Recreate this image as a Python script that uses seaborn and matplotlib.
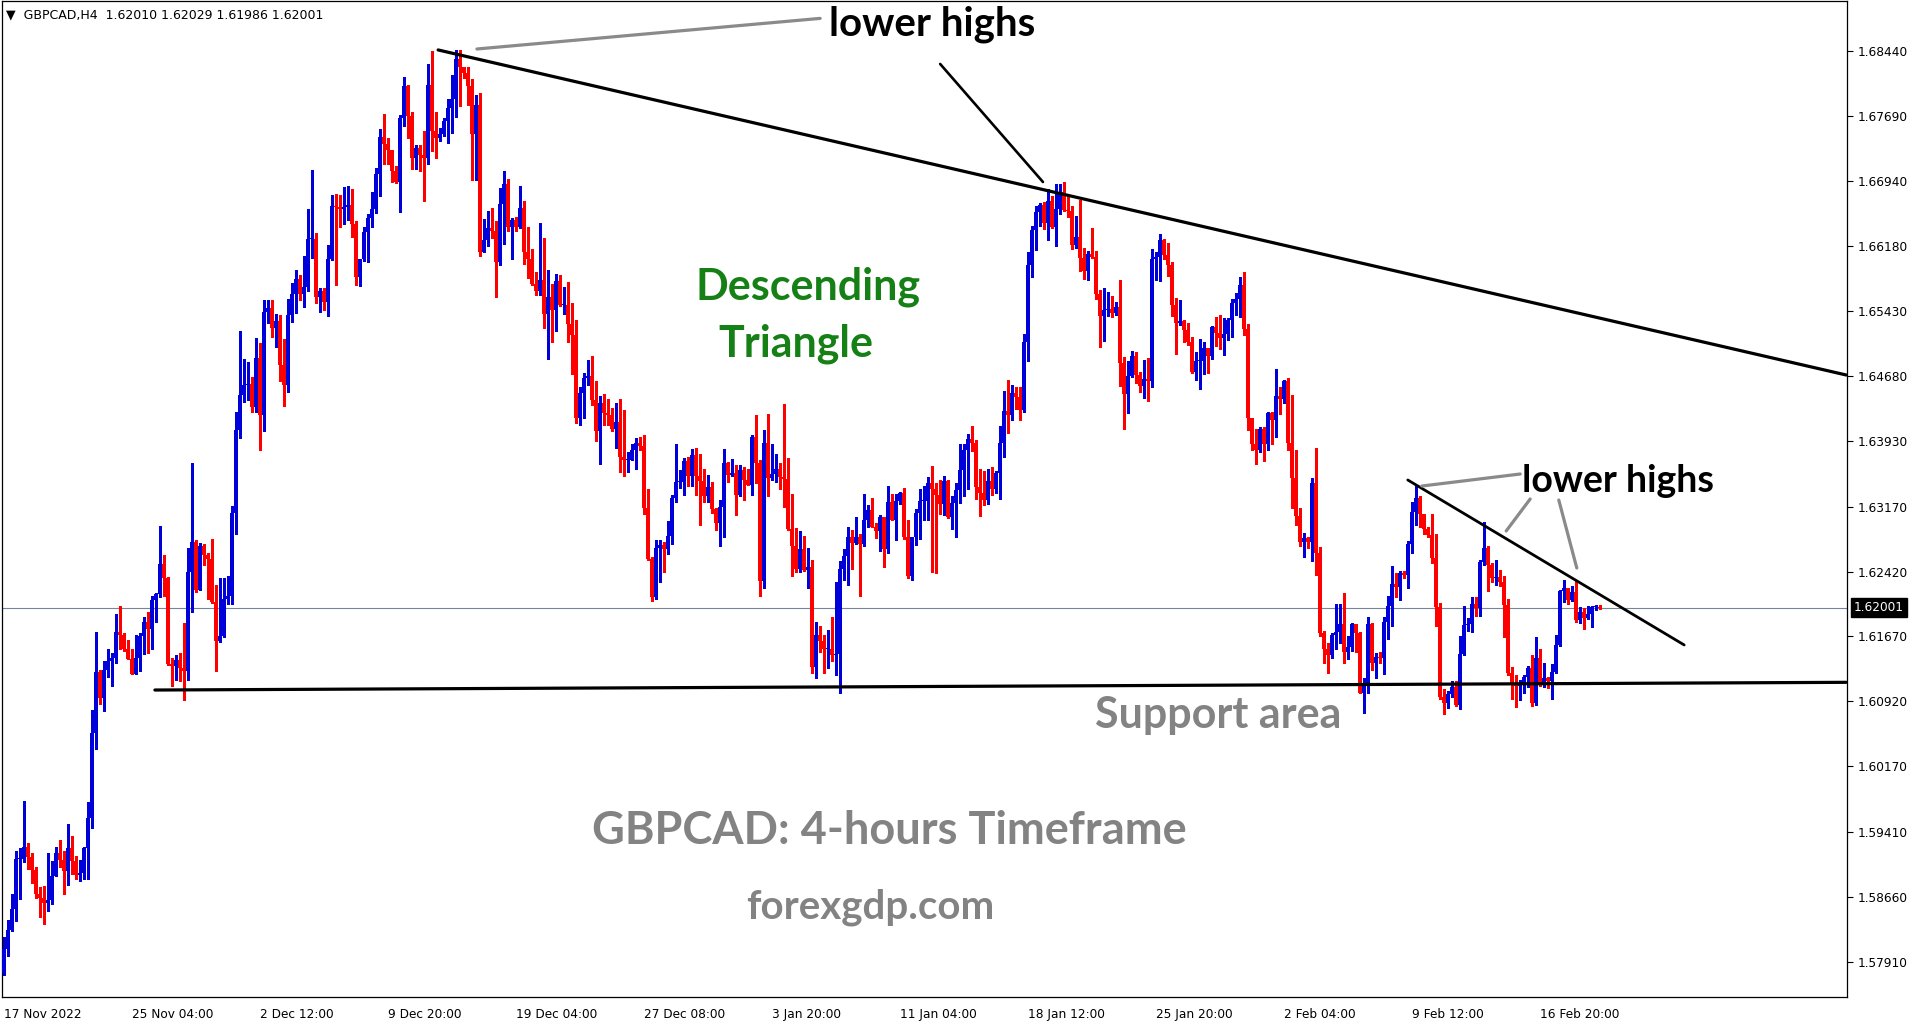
"""GBPCAD H4 descending triangle chart, redrawn with seaborn / matplotlib."""
import numpy as np
import pandas as pd
import seaborn as sns
import matplotlib
matplotlib.use("Agg")
from matplotlib import pyplot as plt
from matplotlib.transforms import blended_transform_factory

# ---------------------------------------------------------------- data
first_open = 1.5778

close = [
    1.5805, 1.5827, 1.5852, 1.5910, 1.5910, 1.5923, 1.5912, 1.5897, 1.5869, 1.5864,
    1.5859, 1.5862, 1.5890, 1.5917, 1.5909, 1.5896, 1.5922, 1.5907, 1.5891, 1.5893,
    1.5922, 1.5957, 1.6055, 1.6126, 1.6096, 1.6128, 1.6138, 1.6142, 1.6172, 1.6169,
    1.6153, 1.6141, 1.6123, 1.6142, 1.6168, 1.6184, 1.6175, 1.6209, 1.6216, 1.6251,
    1.6234, 1.6135, 1.6133, 1.6140, 1.6131, 1.6127, 1.6241, 1.6276, 1.6221, 1.6271,
    1.6261, 1.6256, 1.6207, 1.6162, 1.6168, 1.6210, 1.6214, 1.6310, 1.6406, 1.6446,
    1.6458, 1.6459, 1.6432, 1.6489, 1.6423, 1.6542, 1.6547, 1.6524, 1.6532, 1.6481,
    1.6458, 1.6539, 1.6563, 1.6580, 1.6563, 1.6571, 1.6627, 1.6627, 1.6559, 1.6567,
    1.6554, 1.6604, 1.6665, 1.6664, 1.6661, 1.6664, 1.6666, 1.6644, 1.6583, 1.6604,
    1.6635, 1.6651, 1.6661, 1.6702, 1.6744, 1.6737, 1.6729, 1.6705, 1.6692, 1.6767,
    1.6804, 1.6769, 1.6720, 1.6732, 1.6724, 1.6720, 1.6805, 1.6751, 1.6743, 1.6748,
    1.6763, 1.6778, 1.6789, 1.6835, 1.6825, 1.6819, 1.6803, 1.6748, 1.6781, 1.6612,
    1.6625, 1.6639, 1.6636, 1.6600, 1.6667, 1.6690, 1.6641, 1.6648, 1.6641, 1.6662,
    1.6611, 1.6603, 1.6574, 1.6567, 1.6579, 1.6540, 1.6559, 1.6544, 1.6578, 1.6550,
    1.6550, 1.6528, 1.6516, 1.6420, 1.6448, 1.6466, 1.6468, 1.6440, 1.6404, 1.6437,
    1.6425, 1.6423, 1.6407, 1.6415, 1.6375, 1.6371, 1.6371, 1.6383, 1.6391, 1.6387,
    1.6316, 1.6256, 1.6213, 1.6269, 1.6273, 1.6268, 1.6283, 1.6327, 1.6346, 1.6346,
    1.6370, 1.6352, 1.6377, 1.6352, 1.6347, 1.6329, 1.6340, 1.6314, 1.6298, 1.6317,
    1.6367, 1.6354, 1.6356, 1.6330, 1.6359, 1.6348, 1.6342, 1.6398, 1.6367, 1.6231,
    1.6391, 1.6350, 1.6355, 1.6361, 1.6351, 1.6349, 1.6291, 1.6272, 1.6245, 1.6268,
    1.6244, 1.6247, 1.6132, 1.6169, 1.6162, 1.6152, 1.6153, 1.6145, 1.6147, 1.6245,
    1.6260, 1.6282, 1.6275, 1.6282, 1.6274, 1.6302, 1.6313, 1.6294, 1.6289, 1.6305,
    1.6268, 1.6322, 1.6302, 1.6324, 1.6333, 1.6282, 1.6237, 1.6282, 1.6310, 1.6324,
    1.6324, 1.6344, 1.6338, 1.6330, 1.6320, 1.6347, 1.6305, 1.6321, 1.6336, 1.6359,
    1.6383, 1.6395, 1.6391, 1.6340, 1.6333, 1.6325, 1.6347, 1.6338, 1.6356, 1.6391,
    1.6428, 1.6423, 1.6448, 1.6444, 1.6429, 1.6507, 1.6597, 1.6637, 1.6658, 1.6666,
    1.6645, 1.6671, 1.6641, 1.6661, 1.6681, 1.6660, 1.6659, 1.6620, 1.6629, 1.6605,
    1.6590, 1.6609, 1.6606, 1.6563, 1.6538, 1.6545, 1.6546, 1.6541, 1.6548, 1.6483,
    1.6447, 1.6468, 1.6491, 1.6469, 1.6457, 1.6465, 1.6462, 1.6603, 1.6606, 1.6625,
    1.6608, 1.6597, 1.6550, 1.6530, 1.6532, 1.6521, 1.6508, 1.6473, 1.6485, 1.6486,
    1.6501, 1.6491, 1.6525, 1.6518, 1.6512, 1.6517, 1.6533, 1.6552, 1.6557, 1.6573,
    1.6522, 1.6419, 1.6389, 1.6382, 1.6407, 1.6390, 1.6425, 1.6417, 1.6445, 1.6442,
    1.6462, 1.6391, 1.6350, 1.6306, 1.6276, 1.6281, 1.6276, 1.6344, 1.6263, 1.6171,
    1.6153, 1.6145, 1.6169, 1.6172, 1.6181, 1.6149, 1.6155, 1.6181, 1.6171, 1.6101,
    1.6110, 1.6181, 1.6136, 1.6143, 1.6142, 1.6184, 1.6202, 1.6228, 1.6224, 1.6240,
    1.6238, 1.6274, 1.6311, 1.6327, 1.6308, 1.6291, 1.6284, 1.6258, 1.6201, 1.6097,
    1.6090, 1.6100, 1.6109, 1.6088, 1.6147, 1.6180, 1.6181, 1.6205, 1.6200, 1.6253,
    1.6269, 1.6250, 1.6235, 1.6236, 1.6230, 1.6203, 1.6125, 1.6111, 1.6110, 1.6113,
    1.6120, 1.6130, 1.6090, 1.6142, 1.6113, 1.6119, 1.6115, 1.6126, 1.6157, 1.6220,
    1.6223, 1.6209, 1.6218, 1.6186, 1.6195, 1.6188, 1.6193, 1.6201, 1.6201, 1.62001,
]

high = [
    1.5819, 1.5839, 1.5869, 1.5919, 1.5922, 1.5977, 1.5928, 1.5917, 1.5900, 1.5877,
    1.5878, 1.5917, 1.5907, 1.5923, 1.5932, 1.5919, 1.5950, 1.5936, 1.5913, 1.5909,
    1.5923, 1.5975, 1.6082, 1.6172, 1.6128, 1.6138, 1.6153, 1.6148, 1.6193, 1.6202,
    1.6171, 1.6163, 1.6153, 1.6169, 1.6171, 1.6189, 1.6195, 1.6214, 1.6217, 1.6295,
    1.6261, 1.6236, 1.6142, 1.6146, 1.6148, 1.6182, 1.6269, 1.6367, 1.6278, 1.6275,
    1.6274, 1.6264, 1.6280, 1.6226, 1.6234, 1.6234, 1.6237, 1.6318, 1.6426, 1.6520,
    1.6488, 1.6484, 1.6467, 1.6512, 1.6506, 1.6556, 1.6556, 1.6556, 1.6540, 1.6539,
    1.6511, 1.6557, 1.6576, 1.6591, 1.6585, 1.6607, 1.6661, 1.6706, 1.6634, 1.6570,
    1.6570, 1.6620, 1.6677, 1.6679, 1.6677, 1.6687, 1.6688, 1.6684, 1.6647, 1.6604,
    1.6640, 1.6655, 1.6681, 1.6709, 1.6754, 1.6771, 1.6743, 1.6726, 1.6711, 1.6770,
    1.6814, 1.6805, 1.6773, 1.6735, 1.6735, 1.6752, 1.6829, 1.6844, 1.6774, 1.6755,
    1.6767, 1.6788, 1.6816, 1.6845, 1.6845, 1.6825, 1.6825, 1.6812, 1.6793, 1.6795,
    1.6650, 1.6659, 1.6662, 1.6647, 1.6686, 1.6705, 1.6696, 1.6651, 1.6652, 1.6688,
    1.6670, 1.6640, 1.6615, 1.6588, 1.6645, 1.6628, 1.6591, 1.6574, 1.6586, 1.6585,
    1.6571, 1.6577, 1.6552, 1.6533, 1.6455, 1.6472, 1.6487, 1.6491, 1.6462, 1.6445,
    1.6447, 1.6442, 1.6431, 1.6437, 1.6442, 1.6429, 1.6380, 1.6390, 1.6397, 1.6398,
    1.6400, 1.6337, 1.6259, 1.6279, 1.6278, 1.6276, 1.6300, 1.6331, 1.6389, 1.6360,
    1.6373, 1.6374, 1.6384, 1.6385, 1.6378, 1.6361, 1.6354, 1.6345, 1.6316, 1.6325,
    1.6384, 1.6369, 1.6372, 1.6365, 1.6365, 1.6363, 1.6361, 1.6400, 1.6423, 1.6371,
    1.6406, 1.6424, 1.6390, 1.6378, 1.6367, 1.6436, 1.6373, 1.6332, 1.6292, 1.6289,
    1.6283, 1.6269, 1.6255, 1.6184, 1.6179, 1.6169, 1.6174, 1.6190, 1.6230, 1.6254,
    1.6268, 1.6294, 1.6290, 1.6305, 1.6285, 1.6332, 1.6319, 1.6327, 1.6298, 1.6307,
    1.6305, 1.6341, 1.6332, 1.6332, 1.6334, 1.6339, 1.6302, 1.6282, 1.6314, 1.6337,
    1.6341, 1.6351, 1.6364, 1.6344, 1.6348, 1.6353, 1.6348, 1.6329, 1.6344, 1.6390,
    1.6390, 1.6401, 1.6410, 1.6394, 1.6361, 1.6358, 1.6361, 1.6363, 1.6358, 1.6410,
    1.6451, 1.6463, 1.6458, 1.6455, 1.6455, 1.6517, 1.6612, 1.6642, 1.6665, 1.6668,
    1.6669, 1.6684, 1.6676, 1.6690, 1.6690, 1.6692, 1.6676, 1.6665, 1.6653, 1.6672,
    1.6616, 1.6613, 1.6639, 1.6613, 1.6568, 1.6570, 1.6565, 1.6561, 1.6554, 1.6579,
    1.6490, 1.6486, 1.6497, 1.6496, 1.6473, 1.6487, 1.6489, 1.6615, 1.6612, 1.6632,
    1.6627, 1.6622, 1.6600, 1.6558, 1.6556, 1.6533, 1.6530, 1.6513, 1.6496, 1.6511,
    1.6507, 1.6500, 1.6526, 1.6536, 1.6539, 1.6535, 1.6535, 1.6557, 1.6564, 1.6583,
    1.6588, 1.6528, 1.6419, 1.6407, 1.6409, 1.6409, 1.6427, 1.6427, 1.6476, 1.6455,
    1.6464, 1.6466, 1.6446, 1.6382, 1.6316, 1.6287, 1.6282, 1.6350, 1.6385, 1.6270,
    1.6173, 1.6159, 1.6171, 1.6204, 1.6204, 1.6217, 1.6167, 1.6182, 1.6181, 1.6172,
    1.6119, 1.6190, 1.6182, 1.6148, 1.6149, 1.6190, 1.6214, 1.6248, 1.6240, 1.6243,
    1.6243, 1.6277, 1.6322, 1.6341, 1.6329, 1.6306, 1.6294, 1.6309, 1.6286, 1.6206,
    1.6106, 1.6104, 1.6115, 1.6115, 1.6168, 1.6202, 1.6188, 1.6213, 1.6213, 1.6255,
    1.6299, 1.6271, 1.6252, 1.6255, 1.6244, 1.6237, 1.6210, 1.6132, 1.6122, 1.6117,
    1.6122, 1.6133, 1.6146, 1.6166, 1.6153, 1.6136, 1.6120, 1.6135, 1.6169, 1.6221,
    1.6232, 1.6223, 1.6225, 1.6232, 1.6201, 1.6200, 1.6202, 1.6202, 1.6203, 1.62029,
]

low = [
    1.5775, 1.5797, 1.5826, 1.5838, 1.5863, 1.5906, 1.5898, 1.5882, 1.5865, 1.5842,
    1.5834, 1.5849, 1.5858, 1.5891, 1.5900, 1.5869, 1.5880, 1.5892, 1.5887, 1.5884,
    1.5886, 1.5886, 1.5946, 1.6037, 1.6089, 1.6081, 1.6120, 1.6110, 1.6136, 1.6152,
    1.6150, 1.6141, 1.6123, 1.6123, 1.6127, 1.6147, 1.6148, 1.6153, 1.6184, 1.6212,
    1.6214, 1.6134, 1.6110, 1.6117, 1.6115, 1.6093, 1.6117, 1.6195, 1.6218, 1.6223,
    1.6250, 1.6210, 1.6206, 1.6127, 1.6160, 1.6166, 1.6204, 1.6205, 1.6285, 1.6396,
    1.6438, 1.6440, 1.6427, 1.6427, 1.6382, 1.6404, 1.6529, 1.6513, 1.6502, 1.6462,
    1.6433, 1.6450, 1.6531, 1.6541, 1.6556, 1.6548, 1.6566, 1.6605, 1.6553, 1.6542,
    1.6545, 1.6537, 1.6602, 1.6573, 1.6641, 1.6644, 1.6648, 1.6629, 1.6573, 1.6572,
    1.6601, 1.6600, 1.6640, 1.6657, 1.6676, 1.6713, 1.6713, 1.6692, 1.6691, 1.6658,
    1.6757, 1.6743, 1.6707, 1.6707, 1.6705, 1.6670, 1.6713, 1.6728, 1.6720, 1.6740,
    1.6746, 1.6738, 1.6749, 1.6768, 1.6780, 1.6813, 1.6781, 1.6695, 1.6695, 1.6607,
    1.6611, 1.6618, 1.6628, 1.6560, 1.6597, 1.6621, 1.6636, 1.6604, 1.6636, 1.6639,
    1.6598, 1.6582, 1.6573, 1.6562, 1.6562, 1.6524, 1.6488, 1.6507, 1.6520, 1.6549,
    1.6540, 1.6507, 1.6470, 1.6414, 1.6411, 1.6420, 1.6458, 1.6435, 1.6393, 1.6366,
    1.6412, 1.6412, 1.6405, 1.6385, 1.6357, 1.6352, 1.6357, 1.6372, 1.6361, 1.6382,
    1.6309, 1.6255, 1.6208, 1.6210, 1.6230, 1.6242, 1.6262, 1.6274, 1.6322, 1.6339,
    1.6331, 1.6341, 1.6341, 1.6330, 1.6296, 1.6323, 1.6322, 1.6310, 1.6290, 1.6271,
    1.6282, 1.6345, 1.6353, 1.6307, 1.6329, 1.6325, 1.6342, 1.6331, 1.6344, 1.6214,
    1.6223, 1.6329, 1.6348, 1.6345, 1.6338, 1.6317, 1.6290, 1.6237, 1.6241, 1.6242,
    1.6243, 1.6223, 1.6125, 1.6119, 1.6149, 1.6125, 1.6130, 1.6139, 1.6122, 1.6102,
    1.6232, 1.6226, 1.6245, 1.6274, 1.6214, 1.6272, 1.6294, 1.6293, 1.6281, 1.6266,
    1.6247, 1.6264, 1.6302, 1.6279, 1.6320, 1.6280, 1.6235, 1.6232, 1.6273, 1.6280,
    1.6302, 1.6302, 1.6242, 1.6240, 1.6309, 1.6307, 1.6304, 1.6291, 1.6282, 1.6321,
    1.6329, 1.6338, 1.6381, 1.6326, 1.6306, 1.6319, 1.6320, 1.6331, 1.6333, 1.6326,
    1.6375, 1.6402, 1.6417, 1.6430, 1.6417, 1.6426, 1.6486, 1.6583, 1.6614, 1.6642,
    1.6638, 1.6625, 1.6639, 1.6618, 1.6655, 1.6659, 1.6652, 1.6615, 1.6616, 1.6590,
    1.6580, 1.6579, 1.6605, 1.6557, 1.6502, 1.6509, 1.6537, 1.6536, 1.6539, 1.6457,
    1.6407, 1.6425, 1.6467, 1.6460, 1.6450, 1.6443, 1.6439, 1.6455, 1.6579, 1.6578,
    1.6603, 1.6584, 1.6537, 1.6494, 1.6527, 1.6508, 1.6504, 1.6472, 1.6464, 1.6453,
    1.6471, 1.6472, 1.6488, 1.6503, 1.6499, 1.6492, 1.6510, 1.6513, 1.6539, 1.6536,
    1.6516, 1.6406, 1.6382, 1.6366, 1.6380, 1.6370, 1.6382, 1.6390, 1.6398, 1.6424,
    1.6437, 1.6382, 1.6316, 1.6296, 1.6271, 1.6259, 1.6269, 1.6254, 1.6238, 1.6167,
    1.6136, 1.6125, 1.6142, 1.6152, 1.6159, 1.6136, 1.6141, 1.6150, 1.6149, 1.6101,
    1.6078, 1.6102, 1.6128, 1.6119, 1.6136, 1.6124, 1.6164, 1.6179, 1.6213, 1.6209,
    1.6234, 1.6223, 1.6263, 1.6296, 1.6294, 1.6285, 1.6282, 1.6252, 1.6179, 1.6095,
    1.6077, 1.6084, 1.6097, 1.6086, 1.6083, 1.6146, 1.6173, 1.6172, 1.6191, 1.6191,
    1.6250, 1.6220, 1.6230, 1.6226, 1.6225, 1.6166, 1.6122, 1.6095, 1.6085, 1.6093,
    1.6102, 1.6108, 1.6086, 1.6088, 1.6110, 1.6109, 1.6107, 1.6095, 1.6125, 1.6156,
    1.6207, 1.6205, 1.6208, 1.6184, 1.6182, 1.6176, 1.6187, 1.6178, 1.6198, 1.61986,
]

x_labels = ["17 Nov 2022", "25 Nov 04:00", "2 Dec 12:00", "9 Dec 20:00",
            "19 Dec 04:00", "27 Dec 08:00", "3 Jan 20:00", "11 Jan 04:00",
            "18 Jan 12:00", "25 Jan 20:00", "2 Feb 04:00", "9 Feb 12:00",
            "16 Feb 20:00"]
x_label_bars = [0, 32, 64, 96, 128, 160, 192, 224, 256, 288, 320, 352, 384]
y_ticks = [1.6844, 1.6769, 1.6694, 1.6618, 1.6543, 1.6468, 1.6393, 1.6317,
           1.6242, 1.6167, 1.6092, 1.6017, 1.5941, 1.5866, 1.5791]

symbol = "GBPCAD,H4"
last_ohlc = [1.62010, 1.62029, 1.61986, 1.62001]

# trend lines as (bar index, price) end points
upper_line = {"bar": [108.6, 460.6], "price": [1.68452, 1.64693]}
support_line = {"bar": [37.8, 460.6], "price": [1.61050, 1.61139]}
small_line = {"bar": [351.0, 420.1], "price": [1.63479, 1.61571]}

# pointer lines for the labels
gray_pointers = [
    {"bar": [118.3, 204.1], "price": [1.68463, 1.68817]},
    {"bar": [354.5, 379.1], "price": [1.63409, 1.63548]},
    {"bar": [381.6, 375.6], "price": [1.63259, 1.62889]},
    {"bar": [388.75, 393.25], "price": [1.63247, 1.62461]},
]
black_pointer = {"bar": [234.1, 259.8], "price": [1.68290, 1.66925]}

BULL = "#0000d8"
BEAR = "#ff0000"
GREEN = "#158015"
GRAY = "#838383"

# ---------------------------------------------------------------- frame
df = pd.DataFrame({"close": close, "high": high, "low": low})
df["open"] = [first_open] + close[:-1]
df["bar"] = np.arange(len(df))
df["high"] = df[["high", "open", "close"]].max(axis=1)
df["low"] = df[["low", "open", "close"]].min(axis=1)
df["up"] = df["close"] >= df["open"]

sns.set_style("white")
plt.rcParams["font.family"] = ["DejaVu Sans"]

fig = plt.figure(figsize=(19.19, 10.23), dpi=100)
ax = fig.add_axes([2 / 1919, 26 / 1023, 1845 / 1919, 996 / 1023])
ax.set_xlim(-0.425, 460.8)
ax.set_ylim(1.5750, 1.69018)

# current price line
ax.axhline(last_ohlc[3], color="#74849a", lw=0.8, zorder=1)

# candles
colors = np.where(df["up"], BULL, BEAR)
ax.vlines(df["bar"], df["low"], df["high"], colors=colors, lw=0.8,
          antialiased=False, zorder=2)
body_low = df[["open", "close"]].min(axis=1)
body_h = np.maximum((df["close"] - df["open"]).abs(), 0.00011)
ax.bar(df["bar"], body_h, bottom=body_low, width=0.74, color=colors,
       linewidth=0, antialiased=False, zorder=3)

# trend lines
for line, lw in [(upper_line, 2.3), (support_line, 2.3), (small_line, 2.0)]:
    sns.lineplot(x=line["bar"], y=line["price"], ax=ax, color="black",
                 lw=lw, sort=False, zorder=4)
for line in gray_pointers:
    sns.lineplot(x=line["bar"], y=line["price"], ax=ax, color="#8a8a8a",
                 lw=2.3, sort=False, zorder=4)
sns.lineplot(x=black_pointer["bar"], y=black_pointer["price"], ax=ax,
             color="black", lw=1.9, sort=False, zorder=4)

# ---------------------------------------------------------------- labels
bold = dict(family=["Lato", "DejaVu Sans"], weight="bold", ha="center",
            va="center", zorder=5)
ax.text(232.2, 1.68745, "lower highs", color="black", fontsize=29, **bold)
ax.text(403.6, 1.63470, "lower highs", color="black", fontsize=27, **bold)
ax.text(201.0, 1.65715, "Descending", color=GREEN, fontsize=31, **bold)
ax.text(198.0, 1.65050, "Triangle", color=GREEN, fontsize=31, **bold)
ax.text(303.5, 1.60765, "Support area", color=GRAY, fontsize=31, **bold)
ax.text(221.5, 1.59425, "GBPCAD: 4-hours Timeframe", color=GRAY,
        fontsize=32.5, **bold)
ax.text(216.6, 1.58535, "forexgdp.com", color=GRAY, fontsize=29, **bold)

header = "▼  " + symbol + "  " + " ".join(f"{v:.5f}" for v in last_ohlc)
fig.text(6 / 1919, 1 - 14.5 / 1023, header, fontsize=9, color="black",
         ha="left", va="center")

# ---------------------------------------------------------------- axes
ax.yaxis.tick_right()
ax.set_yticks(y_ticks)
ax.set_yticklabels([f"{v:.5f}" for v in y_ticks])
ax.set_xticks(x_label_bars)
ax.set_xticklabels(x_labels, ha="left")
ax.tick_params(axis="y", direction="out", length=4, width=0.8, pad=4,
               labelsize=8.7, colors="black")
ax.tick_params(axis="x", direction="out", length=5, width=0.8, pad=3,
               labelsize=8.7, colors="black")
for s in ax.spines.values():
    s.set_color("black")
    s.set_linewidth(0.9)
ax.set_xlabel("")
ax.set_ylabel("")

trans = blended_transform_factory(ax.transAxes, ax.transData)
ax.annotate(f"{last_ohlc[3]:.5f}", xy=(1, last_ohlc[3]), xycoords=trans,
            xytext=(7, 0), textcoords="offset pixels", ha="left", va="center",
            fontsize=8.7, color="white",
            bbox=dict(boxstyle="square,pad=0.25", fc="black", ec="black"),
            annotation_clip=False, zorder=6)

fig.savefig("out.png", dpi=100, facecolor="white")
